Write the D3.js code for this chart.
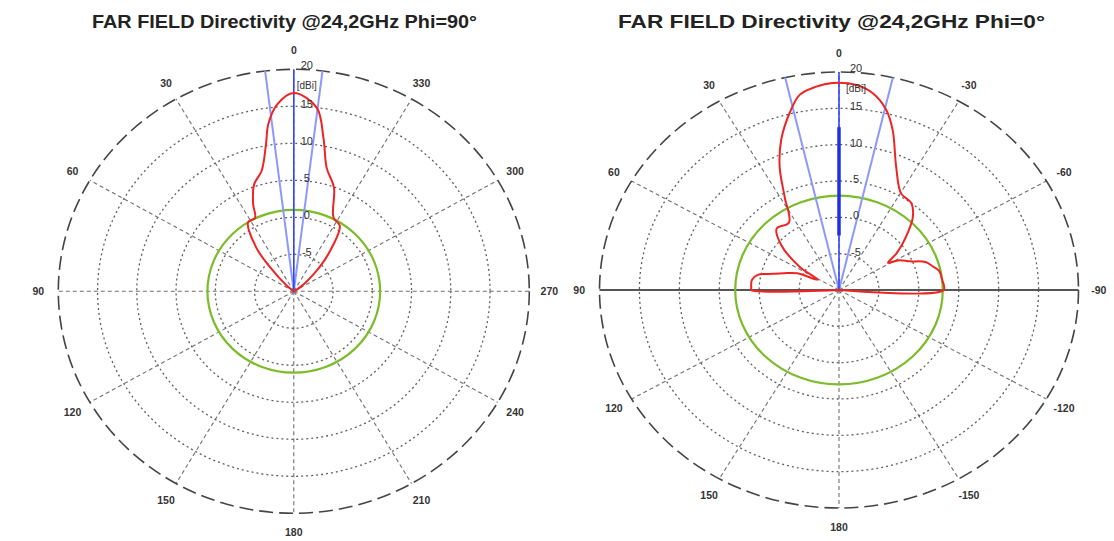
<!DOCTYPE html>
<html>
<head>
<meta charset="utf-8">
<script src="https://cdn.jsdelivr.net/npm/d3@7"></script>
<style>
  body { margin: 0; background: #fff; }
  svg { display: block; }
</style>
</head>
<body>
<svg id="chart" width="1114" height="541"></svg>
<script>
// Radial axis (dBi): centre of the plot is the floor, outer ring is the top
const dbRange = [-10, 20];
const ringValues = [20, 15, 10, 5, 0, -5];
const ringLabels = ["20", "15", "10", "5", "0", "-5"];
const radialUnit = "[dBi]";

// Angular grid every 30 degrees, counted counter-clockwise from the top
const spokeAngles = [0, 30, 60, 90, 120, 150, 180, 210, 240, 270, 300, 330];
const phi90AngleLabels = ["0", "30", "60", "90", "120", "150", "180", "210", "240", "270", "300", "330"];
const phi0AngleLabels = ["0", "30", "60", "90", "120", "150", "180", "-150", "-120", "-90", "-60", "-30"];

// Phi = 90° cut: theta (deg) and directivity (dBi)
const phi90Theta = [54, 49.5, 43, 39, 32, 26.4, 23.7, 19.3, 14.1, 10.1, 8.2, 4.9, 0, -6.7, -10.3, -14.1, -20.1, -26.8, -33.6, -41.1, -46.2, -55.6, -58];
const phi90Db    = [-10, -8.8, -5.6, -2.4, 1.0, 1.1, 2.9, 5.3, 6.8, 10.2, 12.8, 15.3, 16.8, 15.0, 11.1, 7.2, 4.9, 1.2, 0.6, -3.3, -6.0, -9.0, -10];
const phi90RefDb = 1.0;          // green reference circle
const phi90BeamEdges = [7, -7];  // beam-width markers (deg)

// Phi = 0° cut: theta (deg) and directivity (dBi)
const phi0Theta = [90, 90, 88.8, 82.8, 78.5, 75, 71.6, 66.3, 62, 57, 49.5, 42.8, 34, 28, 23.7, 19.3, 14.3, 10.4, 6, 1.6, -4.4, -8.9, -13.4, -17, -22.9, -30.3, -37.2, -42.5, -47, -55, -58.5, -61.5, -66, -70.4, -74, -78, -84, -90, -90];
const phi0Db    = [-10, 1.0, 1.0, 1.0, 0.4, -1.4, -2.7, -4.3, -7.0, -4.1, -0.5, 1.5, 1.2, 4.5, 8.5, 11.9, 15.1, 17.3, 18.1, 18.5, 18.3, 17.4, 15.5, 13.0, 8.4, 5.4, 5.0, 3.7, 1.9, -1.2, -2.8, -1.4, -0.3, 1.5, 2.1, 2.8, 3.0, 3.1, -10];
const phi0RefDb = 3.0;
const phi0BeamEdges = [13, -13];
const phi0MainMarker = [-2.5, 12.4]; // dBi span of the main-direction marker

const svg = d3.select("#chart");
const toRad = Math.PI / 180;

function drawPolar(cfg) {
  const g = svg.append("g");
  const r = d3.scaleLinear().domain(dbRange).range([0, 1]).clamp(true);
  const sx = d3.scaleLinear().domain([-1, 1]).range([cfg.cx - cfg.rx, cfg.cx + cfg.rx]);
  const sy = d3.scaleLinear().domain([-1, 1]).range([cfg.cy + cfg.ry, cfg.cy - cfg.ry]);
  const px = (t, u) => sx(-u * Math.sin(t * toRad));
  const py = (t, u) => sy(u * Math.cos(t * toRad));

  // title
  g.append("text")
    .attr("x", cfg.titleX).attr("y", 28)
    .attr("text-anchor", "middle")
    .attr("textLength", cfg.titleW).attr("lengthAdjust", "spacingAndGlyphs")
    .style("font-family", "Arial, 'Liberation Sans', sans-serif")
    .style("font-weight", "bold").style("font-size", "18px").attr("fill", "#222")
    .text(cfg.title);

  // spokes
  g.selectAll("line.spoke")
    .data(spokeAngles.filter(a => !(cfg.axisLine && (a === 90 || a === 270))))
    .join("line").attr("class", "spoke")
    .attr("x1", sx(0)).attr("y1", sy(0))
    .attr("x2", a => px(a, 1)).attr("y2", a => py(a, 1))
    .attr("stroke", "#707070").attr("stroke-width", 1.1).attr("stroke-dasharray", "4,3");

  // inner rings
  g.selectAll("ellipse.ring")
    .data(ringValues.slice(1))
    .join("ellipse").attr("class", "ring")
    .attr("cx", sx(0)).attr("cy", sy(0))
    .attr("rx", d => sx(r(d)) - sx(0)).attr("ry", d => sy(0) - sy(r(d)))
    .attr("fill", "none").attr("stroke", "#606060").attr("stroke-width", 1.3)
    .attr("stroke-dasharray", "2,3");

  // outer ring
  g.append("ellipse")
    .attr("cx", sx(0)).attr("cy", sy(0))
    .attr("rx", sx(r(ringValues[0])) - sx(0)).attr("ry", sy(0) - sy(r(ringValues[0])))
    .attr("fill", "none").attr("stroke", "#444").attr("stroke-width", 1.6)
    .attr("stroke-dasharray", "14,6");

  // horizontal axis line (theta = ±90°)
  if (cfg.axisLine) {
    g.append("line")
      .attr("x1", px(90, 1)).attr("y1", py(90, 1))
      .attr("x2", px(-90, 1)).attr("y2", py(-90, 1))
      .attr("stroke", "#555").attr("stroke-width", 2);
  }

  // angle labels
  g.selectAll("text.ang")
    .data(spokeAngles)
    .join("text").attr("class", "ang")
    .attr("x", a => px(a, 1.085)).attr("y", a => py(a, 1.085))
    .attr("text-anchor", "middle").attr("dominant-baseline", "central")
    .style("font-family", "Arial, 'Liberation Sans', sans-serif")
    .style("font-weight", "bold").style("font-size", "10.5px").attr("fill", "#333")
    .text((a, i) => cfg.angleLabels[i]);

  // green reference circle
  g.append("ellipse")
    .attr("cx", sx(0)).attr("cy", sy(0))
    .attr("rx", sx(r(cfg.refDb)) - sx(0)).attr("ry", sy(0) - sy(r(cfg.refDb)))
    .attr("fill", "none").attr("stroke", "#7cbb2a").attr("stroke-width", 2.2);

  // beam-width markers
  g.selectAll("line.beam")
    .data(cfg.beam)
    .join("line").attr("class", "beam")
    .attr("x1", sx(0)).attr("y1", sy(0))
    .attr("x2", a => px(a, 1)).attr("y2", a => py(a, 1))
    .attr("stroke", "#8d98ff").attr("stroke-width", 2);

  // main direction
  g.append("line")
    .attr("x1", sx(0)).attr("y1", sy(0))
    .attr("x2", px(0, 1)).attr("y2", py(0, 1))
    .attr("stroke", "#3344ff").attr("stroke-width", 1.6);
  if (cfg.marker) {
    g.append("line")
      .attr("x1", px(0, r(cfg.marker[0]))).attr("y1", py(0, r(cfg.marker[0])))
      .attr("x2", px(0, r(cfg.marker[1]))).attr("y2", py(0, r(cfg.marker[1])))
      .attr("stroke", "#1f2fe6").attr("stroke-width", 3.5);
  }

  // pattern
  const pts = cfg.theta.map((t, i) => ({ t, v: cfg.db[i] }));
  const line = d3.line()
    .x(d => px(d.t, r(d.v))).y(d => py(d.t, r(d.v)))
    .curve(d3.curveCatmullRom.alpha(0.5));
  g.append("path").datum(pts)
    .attr("d", line)
    .attr("fill", "none").attr("stroke", "#ee2424").attr("stroke-width", 2)
    .attr("stroke-linejoin", "round");

  // radial tick labels
  g.selectAll("text.rlab")
    .data(ringValues)
    .join("text").attr("class", "rlab")
    .attr("x", sx(0) + cfg.labelDx)
    .attr("y", (v, i) => py(0, r(v)) - (i === 0 ? 4 : 2))
    .attr("text-anchor", "middle").attr("dominant-baseline", "central")
    .style("font-family", "Arial, 'Liberation Sans', sans-serif")
    .style("font-size", "11px").attr("fill", "#333")
    .text((v, i) => ringLabels[i]);
  g.append("text")
    .attr("x", sx(0) + cfg.labelDx).attr("y", py(0, 1) + 16)
    .attr("text-anchor", "middle").attr("dominant-baseline", "central")
    .style("font-family", "Arial, 'Liberation Sans', sans-serif")
    .style("font-size", "10px").attr("fill", "#333")
    .text(radialUnit);
}

drawPolar({
  title: "FAR FIELD Directivity @24,2GHz Phi=90°", titleX: 284.5, titleW: 385,
  cx: 293.8, cy: 291.3, rx: 235.5, ry: 222,
  angleLabels: phi90AngleLabels, theta: phi90Theta, db: phi90Db,
  refDb: phi90RefDb, beam: phi90BeamEdges, labelDx: 13, axisLine: false
});
drawPolar({
  title: "FAR FIELD Directivity @24,2GHz Phi=0°", titleX: 831.5, titleW: 427,
  cx: 839, cy: 290, rx: 239.5, ry: 218,
  angleLabels: phi0AngleLabels, theta: phi0Theta, db: phi0Db,
  refDb: phi0RefDb, beam: phi0BeamEdges, marker: phi0MainMarker, labelDx: 17, axisLine: true
});
</script>
</body>
</html>
